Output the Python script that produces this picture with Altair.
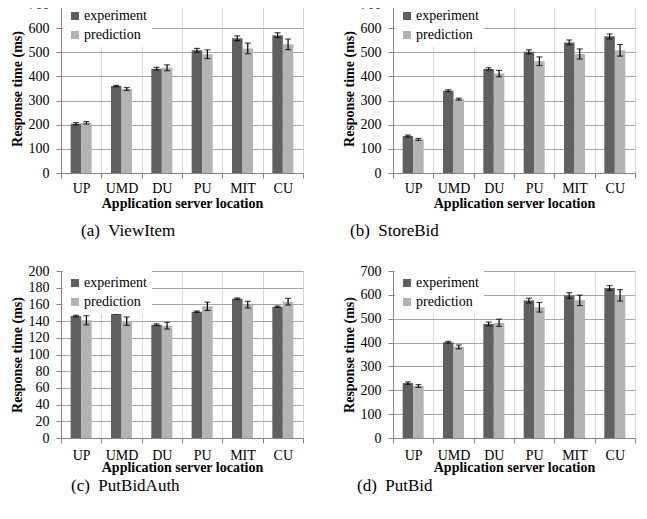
import altair as alt
import pandas as pd

categories = ["UP", "UMD", "DU", "PU", "MIT", "CU"]
series_names = ["experiment", "prediction"]

viewitem_exp = [204, 360, 432, 508, 558, 571]
viewitem_exp_err = [5, 3, 6, 8, 10, 10]
viewitem_pred = [208, 348, 436, 492, 516, 533]
viewitem_pred_err = [5, 6, 12, 18, 22, 22]

storebid_exp = [153, 341, 431, 502, 541, 566]
storebid_exp_err = [4, 4, 5, 8, 10, 10]
storebid_pred = [139, 306, 412, 463, 493, 508]
storebid_pred_err = [4, 4, 13, 18, 21, 24]

putbidauth_exp = [146, 149.3, 135.7, 151.3, 166.9, 157.3]
putbidauth_exp_err = [1, 0.8, 1, 0.8, 0.8, 0.8]
putbidauth_pred = [141, 140, 134.5, 157.7, 159.7, 163.3]
putbidauth_pred_err = [5.5, 5, 4, 5, 4, 4]

putbid_exp = [230, 401, 478, 576, 597, 629]
putbid_exp_err = [5, 4, 8, 10, 12, 10]
putbid_pred = [218, 382, 483, 548, 577, 598]
putbid_pred_err = [6, 8, 15, 20, 22, 24]

SERIF = "Liberation Serif"
DARK = "#606060"
LIGHT = "#b3b3b3"


def panel(exp, exp_err, pred, pred_err, ymax, ystep, caption, dx, height,
          label_pad, title_pad, cap_offset):
    rows = []
    for i, c in enumerate(categories):
        rows.append({"category": c, "series": "experiment", "value": exp[i],
                     "lo": exp[i] - exp_err[i], "hi": exp[i] + exp_err[i]})
        rows.append({"category": c, "series": "prediction", "value": pred[i],
                     "lo": pred[i] - pred_err[i], "hi": pred[i] + pred_err[i]})
    df = pd.DataFrame(rows)
    base = alt.Chart(df)
    x = alt.X("category:N", sort=categories,
              scale=alt.Scale(domain=categories, paddingInner=0, paddingOuter=0),
              axis=alt.Axis(title="Application server location", tickBand="extent",
                            grid=True, gridColor="#d9d9d9", labelAngle=0,
                            labelPadding=label_pad, titlePadding=title_pad))
    xo = alt.XOffset("series:N", sort=series_names,
                     scale=alt.Scale(domain=series_names, paddingInner=0, paddingOuter=0.92))
    yscale = alt.Scale(domain=[0, ymax], nice=False)
    yaxis = alt.Axis(title="Response time (ms)", values=list(range(0, ymax + 1, ystep)),
                     grid=True, gridColor="#a6a6a6", tickSize=5, labelPadding=7,
                     titlePadding=4)
    bars = base.mark_bar().encode(
        x=x, xOffset=xo, y=alt.Y("value:Q", scale=yscale, axis=yaxis),
        color=alt.Color("series:N", sort=series_names,
                        scale=alt.Scale(domain=series_names, range=[DARK, LIGHT]),
                        legend=alt.Legend(title=None, orient="none", legendX=2, legendY=0)),
    )
    rule = base.mark_rule(color="black", strokeWidth=1.2).encode(
        x=x, xOffset=xo, y=alt.Y("lo:Q", scale=yscale, axis=yaxis), y2="hi:Q")
    cap_lo = base.mark_tick(color="black", size=6, thickness=1.2).encode(
        x=x, xOffset=xo, y=alt.Y("lo:Q", scale=yscale, axis=yaxis))
    cap_hi = base.mark_tick(color="black", size=6, thickness=1.2).encode(
        x=x, xOffset=xo, y=alt.Y("hi:Q", scale=yscale, axis=yaxis))
    return alt.layer(bars, rule, cap_lo, cap_hi).properties(
        width=242, height=height,
        title=alt.TitleParams(caption, orient="bottom", anchor="start", frame="group",
                              dx=dx, offset=cap_offset, font=SERIF, fontSize=17,
                              fontWeight="normal", color="black"),
    )


a = panel(viewitem_exp, viewitem_exp_err, viewitem_pred, viewitem_pred_err, 700, 100,
          "(a)\u00a0\u00a0ViewItem", 20, 169, 3, 1, 13)
b = panel(storebid_exp, storebid_exp_err, storebid_pred, storebid_pred_err, 700, 100,
          "(b)\u00a0\u00a0StoreBid", -43, 169, 3, 1, 13)
c = panel(putbidauth_exp, putbidauth_exp_err, putbidauth_pred, putbidauth_pred_err, 200, 20,
          "(c)\u00a0\u00a0PutBidAuth", 10, 167, 5, -2, 4)
d = panel(putbid_exp, putbid_exp_err, putbid_pred, putbid_pred_err, 700, 100,
          "(d)\u00a0\u00a0PutBid", -36, 167, 5, -2, 4)

chart = alt.vconcat(
    alt.hconcat(a, b, spacing=38).resolve_scale(color="independent").resolve_legend(color="independent"),
    alt.hconcat(c, d, spacing=38).resolve_scale(color="independent").resolve_legend(color="independent"),
    spacing=25,
).resolve_scale(
    color="independent"
).resolve_legend(
    color="independent"
).properties(
    padding={"top": -11, "left": 2, "right": 0, "bottom": 0}
).configure(
    background="white", font=SERIF
).configure_view(
    stroke=None
).configure_axis(
    labelFont=SERIF, labelFontSize=14, labelColor="black", labelOverlap=False,
    tickSize=5, tickColor="#868686", domainColor="#868686",
    titleFont=SERIF, titleFontSize=14, titleFontWeight="bold", titleColor="black"
).configure_legend(
    fillColor="white", padding=5, symbolType="square", symbolSize=64,
    symbolStrokeWidth=0, labelFont=SERIF, labelFontSize=14, labelColor="black",
    labelOffset=2, rowPadding=5
)

chart.save("out.html", embed_options={"renderer": "svg", "actions": False})
